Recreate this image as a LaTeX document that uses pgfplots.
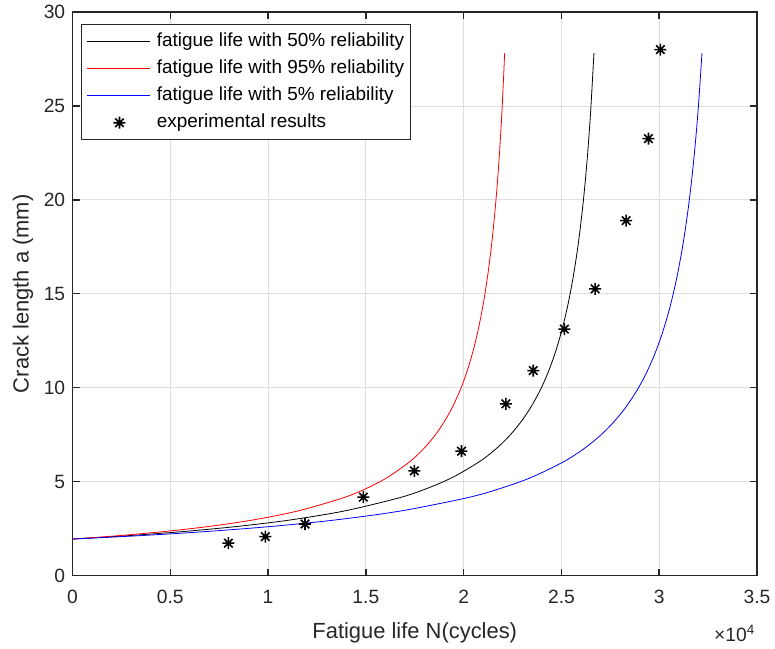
\documentclass[border=0pt]{standalone}
\usepackage{fontspec}
\setmainfont{Liberation Sans}
\usepackage{pgfplots}
\usepackage{pgfplotstable}
\pgfplotsset{compat=1.18}
\definecolor{axgray}{RGB}{38,38,38}
\definecolor{gridgray}{RGB}{222,222,222}

\pgfdeclareplotmark{mlstar}{%
  \pgfpathmoveto{\pgfpoint{-\pgfplotmarksize}{0pt}}\pgfpathlineto{\pgfpoint{\pgfplotmarksize}{0pt}}%
  \pgfpathmoveto{\pgfpoint{0pt}{-\pgfplotmarksize}}\pgfpathlineto{\pgfpoint{0pt}{\pgfplotmarksize}}%
  \pgfpathmoveto{\pgfpoint{-0.7071\pgfplotmarksize}{-0.7071\pgfplotmarksize}}\pgfpathlineto{\pgfpoint{0.7071\pgfplotmarksize}{0.7071\pgfplotmarksize}}%
  \pgfpathmoveto{\pgfpoint{-0.7071\pgfplotmarksize}{0.7071\pgfplotmarksize}}\pgfpathlineto{\pgfpoint{0.7071\pgfplotmarksize}{-0.7071\pgfplotmarksize}}%
  \pgfusepathqstroke}

\pgfplotsset{
  linelegend/.style={legend image code/.code={\draw[##1, line width=0.8bp] (0bp,0bp) -- (63bp,0bp);}},
  starlegend/.style={legend image code/.code={\path[draw=none,fill=none] (0bp,0bp) -- (63bp,0bp); \draw[##1] plot coordinates {(32bp,0bp)};}},
}

% crack length curves: N for 95%, 50%, 5% reliability, and crack length a (mm)
\pgfplotstableread{
Nred Nblack Nblue a
0 0 0 1.940
2300 2775 3350 2.116
4600 5550 6700 2.331
6900 8325 10050 2.601
9200 11100 13400 2.952
11500 13875 16750 3.430
13800 16650 20100 4.120
14950 18038 21775 4.598
16100 19425 23450 5.219
17250 20813 25125 6.063
17940 21645 26130 6.734
18400 22200 26800 7.284
18745 22616 27303 7.766
19090 23033 27805 8.325
19435 23449 28308 8.982
19780 23865 28810 9.766
20010 24143 29145 10.378
20240 24420 29480 11.084
20470 24698 29815 11.906
20700 24975 30150 12.877
20884 25197 30418 13.790
21045 25391 30653 14.716
21229 25613 30921 15.964
21390 25808 31155 17.265
21505 25946 31323 18.348
21620 26085 31490 19.596
21735 26224 31658 21.047
21850 26363 31825 22.764
21965 26501 31993 24.826
22098 26662 32187 27.808
}\curves

\pgfplotstableread{
N a
7970 1.72
9860 2.07
11890 2.74
14870 4.17
17480 5.57
19890 6.62
22160 9.14
23560 10.91
25150 13.12
26720 15.26
28310 18.89
29450 23.26
30060 28.00
}\expdata

\begin{document}
\begin{tikzpicture}
\begin{axis}[
  scale only axis, width=684.5bp, height=563.5bp,
  xmin=0, xmax=35000, ymin=0, ymax=30,
  xtick={0,5000,...,35000}, ytick={0,5,...,30},
  scaled x ticks=base 10:-4,
  xtick scale label code/.code={×10\textsuperscript{4}},
  every x tick scale label/.style={at={(rel axis cs:1,0)},anchor=base east,xshift=-2bp,yshift=-55bp,inner sep=0pt,font=\fontsize{19.3}{22}\selectfont,text=axgray},
  /pgf/number format/assume math mode=true,
  tick label style={font=\fontsize{19.3}{22}\selectfont, text=axgray},
  xticklabel style={yshift=-11bp},
  yticklabel style={xshift=-3.8bp},
  tick align=inside, tick pos=both,
  major tick length=7bp,
  axis line style={line width=1.5bp, draw=axgray},
  every tick/.style={line width=1.5bp, draw=axgray},
  grid=major,
  major grid style={line width=0.8bp, draw=gridgray},
  xlabel={Fatigue life N(cycles)},
  ylabel={Crack length a (mm)},
  label style={font=\fontsize{22}{25}\selectfont, text=axgray},
  xlabel style={at={(rel axis cs:0.5,0)}, anchor=center, yshift=-57bp},
  ylabel style={at={(rel axis cs:-0.0725,0.5)}, anchor=center},
  legend style={at={(rel axis cs:0.012,0.978)}, anchor=north west,
    draw=axgray, line width=0.7bp, font=\fontsize{19}{22}\selectfont,
    inner xsep=6bp, inner ysep=7.5bp, row sep=8bp, column sep=6bp,
    nodes={inner sep=0pt, text height=14.5bp, text depth=4.5bp}},
  legend cell align=left,
]
\addplot[black, line width=0.8bp, smooth, linelegend] table[x=Nblack, y=a] {\curves};
\addlegendentry{fatigue life with 50\% reliability}
\addplot[red, line width=0.8bp, smooth, linelegend] table[x=Nred, y=a] {\curves};
\addlegendentry{fatigue life with 95\% reliability}
\addplot[blue, line width=0.8bp, smooth, linelegend] table[x=Nblue, y=a] {\curves};
\addlegendentry{fatigue life with 5\% reliability}
\addplot[only marks, mark=mlstar, mark size=6bp, mark options={line width=1.6bp, black}, starlegend]
  table[x=N, y=a] {\expdata};
\addlegendentry{experimental results}
\end{axis}
\pgfresetboundingbox
\path (-72.5bp,-73.5bp) rectangle (702.5bp,575.5bp);
\end{tikzpicture}
\end{document}
